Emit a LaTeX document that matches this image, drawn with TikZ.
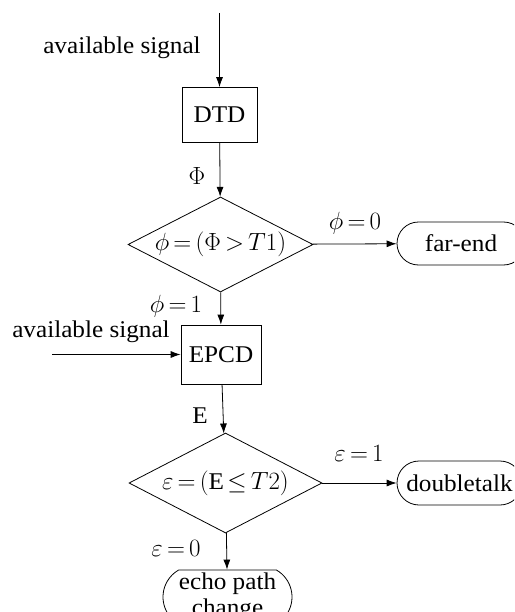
\documentclass[tikz,border=0pt]{standalone}
\usepackage{fontspec}
\setmainfont{Liberation Serif}[FakeStretch=1.05]
\usetikzlibrary{shapes.geometric,shapes.misc,arrows.meta}
\thickmuskip=3mu
\medmuskip=2mu

\begin{document}
\begin{tikzpicture}[x=1pt,y=-1pt,line width=0.8pt,>={Latex[length=10pt,width=7pt]},
	font=\fontsize{24}{26}\selectfont,
	block/.style={draw,rectangle,inner sep=0pt},
	decide/.style={draw,diamond,inner sep=0pt},
	term/.style={draw,rounded rectangle,inner sep=0pt}]
	\clip (0,0) rectangle (514,612);
	\coordinate (src) at (219.5,13);
	\node (sig1) at (122,48) {available signal};
	\node[block,minimum width=75pt,minimum height=55pt] (dtd) at (219.5,115) {DTD};
	\node (lPhi) at (197,176) {$\Phi$};
	\node[decide,aspect=1.95,minimum width=185pt,minimum height=95pt] (dec1) at (220.5,244.5) {$\phi=(\Phi>T1)$};
	\node (lphi0) at (355,223) {$\phi=0$};
	\node[term,minimum width=128pt,minimum height=43pt] (far) at (461,243.5) {far-end};
	\node (lphi1) at (176,306) {$\phi=1$};
	\node (sig2) at (91,332) {available signal};
	\coordinate (in2) at (52,354.5);
	\node[block,minimum width=80pt,minimum height=59pt] (epcd) at (221,354.5) {EPCD};
	\node (lE) at (200,416) {E};
	\node[decide,aspect=1.93,minimum width=193pt,minimum height=100pt] (dec2) at (225.5,483) {$\varepsilon=(\mathrm{E}\le T2)$};
	\node (leps1) at (359,453) {$\varepsilon=1$};
	\node[term,minimum width=125pt,minimum height=44pt] (dbl) at (459.5,483) {doubletalk};
	\node (leps0) at (176,548) {$\varepsilon=0$};
	\node[term,rounded rectangle arc length=120,align=center,minimum width=129pt,minimum height=54pt] (echo) at (227.5,597) {echo path\\change};

	\draw[->] (src) -- (dtd);
	\draw[->] (dtd) -- (dec1);
	\draw[->] (dec1) -- (far);
	\draw[->] (dec1) -- (epcd);
	\draw[->] (in2) -- (epcd);
	\draw[->] (epcd) -- (dec2);
	\draw[->] (dec2) -- (dbl);
	\draw[->] (dec2) -- (echo);
\end{tikzpicture}
\end{document}
